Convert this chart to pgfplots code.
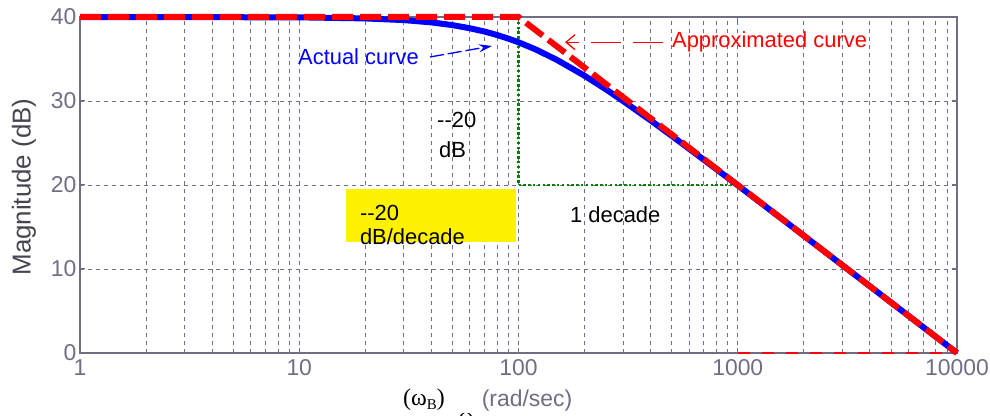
\documentclass[border=0pt]{standalone}
\usepackage{fontspec}
\setmainfont{Liberation Sans}
\newfontfamily\serif{Liberation Serif}
\usepackage{pgfplots}
\pgfplotsset{compat=1.18}
\usetikzlibrary{arrows.meta}
\definecolor{axgray}{HTML}{6E6E84}
\definecolor{labgray}{HTML}{45454F}
\definecolor{mgreen}{HTML}{008000}
\begin{document}
\begin{tikzpicture}
\useasboundingbox (0bp,0bp) rectangle (990bp,416bp);
\begin{axis}[
 at={(80bp,63bp)}, anchor=south west,
 scale only axis, width=877bp, height=336bp,
 xmode=log, xmin=1, xmax=10000, ymin=0, ymax=40,
 clip=false,
 xtick={1,10,100,1000,10000},
 xticklabels={1,10,100,1000,10000},
 minor xtick={2,3,4,5,6,7,8,9,20,30,40,50,60,70,80,90,200,300,400,500,600,700,800,900,2000,3000,4000,5000,6000,7000,8000,9000},
 ytick={0,10,20,30,40},
 yticklabels={0,10,20,30,40},
 grid=both,
 major grid style={axgray, line width=0.9bp, dash pattern=on 4bp off 4bp},
 minor grid style={axgray, line width=0.9bp, dash pattern=on 4bp off 4bp},
 axis line style={axgray, line width=1.4bp},
 major tick length=5bp, minor tick length=0bp,
 tick style={axgray, line width=1bp},
 ticklabel style={font=\fontsize{23}{26}\selectfont, text=axgray},
 xticklabel style={yshift=-3bp},
 /pgf/number format/assume math mode=true,
]
% yellow annotation box
\fill[yellow] (axis cs:16.3,19.5) rectangle (axis cs:97.4,13.2);
% asymptotes (green dotted)
\addplot[mgreen, line width=2.4bp, dash pattern=on 2.4bp off 2.4bp] coordinates {(100,40) (100,20) (1000,20)};
% actual curve
\addplot[blue, line width=6bp] coordinates {
 (1,40) (10,39.96) (20,39.83) (30,39.63) (40,39.36) (50,39.03) (60,38.66)
 (70,38.27) (80,37.85) (90,37.42) (100,36.99) (120,36.13) (150,34.88)
 (200,33.01) (250,31.40) (300,30.00) (400,27.70) (500,25.85) (700,23.01)
 (1000,19.96) (1500,16.46) (2000,13.97) (3000,10.45) (5000,6.02)
 (7000,3.10) (10000,0)};
% approximated curve
\addplot[red, line width=6bp, dash pattern=on 21bp off 7bp] coordinates {
 (1,40) (100,40) (10000,0)};
\addplot[red, line width=1.8bp, dash pattern=on 12bp off 12bp] coordinates {
 (1000,0) (10000,0)};
% annotations
\node[anchor=west, inner sep=0pt, text=blue, font=\fontsize{22}{26}\selectfont] at (axis cs:9.87,35.24) {Actual curve};
\draw[blue, line width=1.3bp, dash pattern=on 14bp off 4bp, -{Stealth[length=13bp,width=8bp]}] (axis cs:39.5,35.24) -- (axis cs:75.7,36.55);
\node[anchor=west, inner sep=0pt, text=red, font=\fontsize{22}{26}\selectfont] at (axis cs:501,37.0) {Approximated curve};
\draw[red, line width=1.3bp, dash pattern=on 30bp off 12bp, -{Straight Barb[length=9bp,width=15bp]}] (axis cs:456,37.0) -- (axis cs:163,37.0);
\node[anchor=base west, inner sep=0pt, font=\fontsize{22}{26}\selectfont] at (axis cs:42.5,26.79) {-{}-20};
\node[anchor=base west, inner sep=0pt, font=\fontsize{22}{26}\selectfont] at (axis cs:43.4,23.33) {dB};
\node[anchor=base west, inner sep=0pt, font=\fontsize{22}{26}\selectfont] at (axis cs:18.9,15.83) {-{}-20};
\node[anchor=base west, inner sep=0pt, font=\fontsize{22}{26}\selectfont] at (axis cs:18.9,12.86) {dB/decade};
\node[anchor=base west, inner sep=0pt, font=\fontsize{22}{26}\selectfont] at (axis cs:171.7,15.48) {1 decade};
\end{axis}
% axis labels
\node[rotate=90, text=labgray, font=\fontsize{26}{30}\selectfont] at (24bp,229bp) {Magnitude (dB)};
\node[font=\serif\fontsize{24}{28}\selectfont] at (424bp,16bp) {(ω\raisebox{-0.35ex}{\fontsize{15}{17}\selectfont B})};
\node[font=\serif\fontsize{22}{26}\selectfont] at (466bp,-2bp) {ω};
\node[text=axgray, font=\fontsize{23}{26}\selectfont] at (527bp,15bp) {(rad/sec)};
\end{tikzpicture}
\end{document}
